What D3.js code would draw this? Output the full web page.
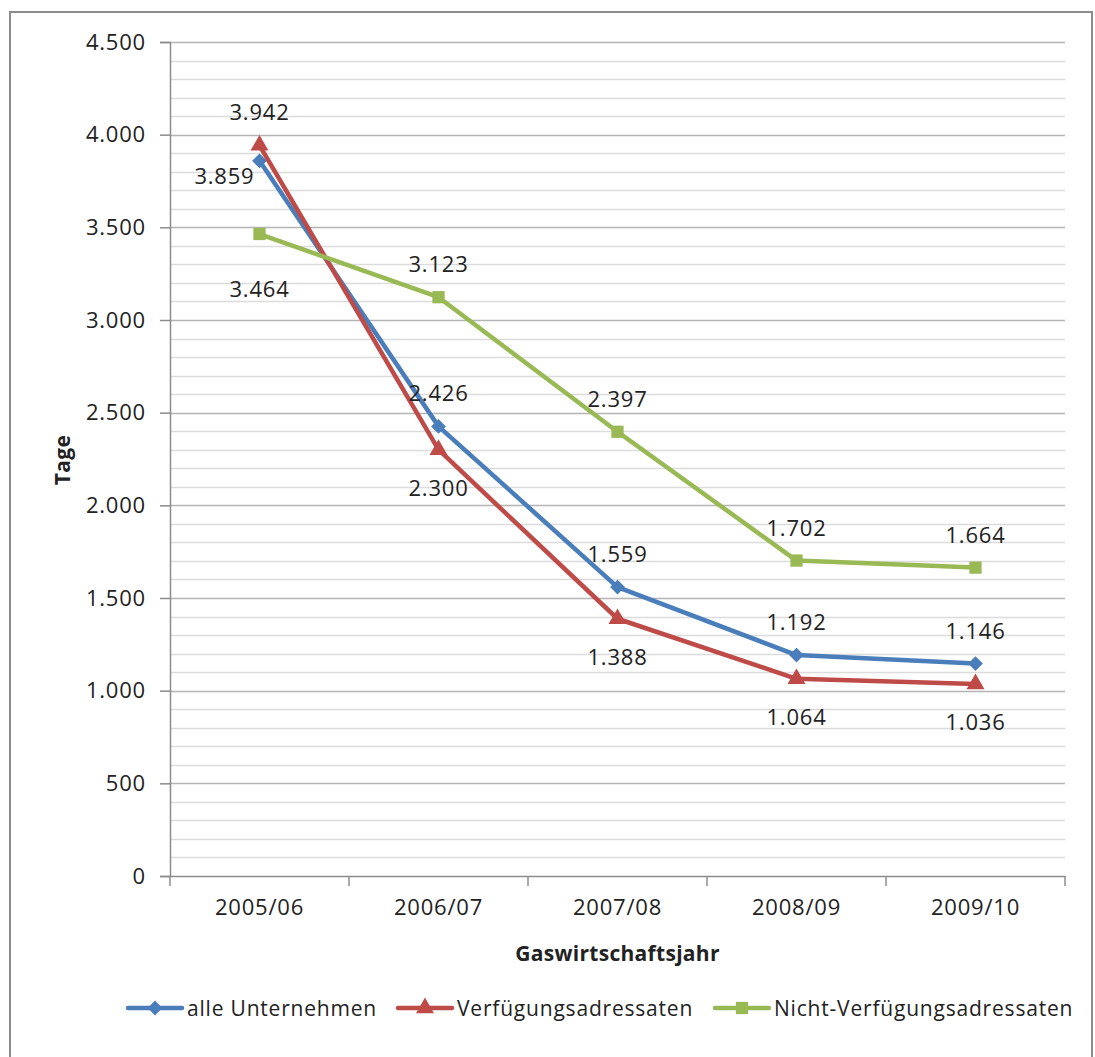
<!DOCTYPE html>
<html>
<head>
<meta charset="utf-8">
<script src="https://cdn.jsdelivr.net/npm/d3@7"></script>
<style>
  body { margin: 0; background: #fff; }
  text { font-family: 'Open Sans', sans-serif; fill: #222; letter-spacing: 0.8px; }
</style>
</head>
<body>
<svg width="1095" height="1057"></svg>
<script>
const width = 1095,
  height = 1057;
const svg = d3.select('svg');

// Data
const years = ['2005/06', '2006/07', '2007/08', '2008/09', '2009/10'];
const alleUnternehmen = [3859, 2426, 1559, 1192, 1146];
const verfuegungsadressaten = [3942, 2300, 1388, 1064, 1036];
const nichtVerfuegungsadressaten = [3464, 3123, 2397, 1702, 1664];
const yTicks = [0, 500, 1000, 1500, 2000, 2500, 3000, 3500, 4000, 4500];

// label placement per point (where Excel put them)
const labelPos = {
  alle: ['left', 'above', 'above', 'above', 'above'],
  verf: ['above', 'below', 'below', 'below', 'below'],
  nicht: ['below2', 'above', 'above', 'above', 'above'],
};

const series = [
  { key: 'alle', name: 'alle Unternehmen', values: alleUnternehmen, color: '#4a7ebb', marker: d3.symbolSquare, size: 110, rot: 45 },
  { key: 'verf', name: 'Verfügungsadressaten', values: verfuegungsadressaten, color: '#be4b48', marker: d3.symbolTriangle, size: 140, rot: 0 },
  { key: 'nicht', name: 'Nicht-Verfügungsadressaten', values: nichtVerfuegungsadressaten, color: '#98b954', marker: d3.symbolSquare, size: 150, rot: 0 },
];

const margin = { left: 170, right: 1065, top: 42, bottom: 876 };

const x = d3.scaleBand().domain(years).range([margin.left, margin.right]);
const y = d3.scaleLinear().domain([0, 4500]).range([margin.bottom, margin.top]);

// outer frame
svg
  .append('path')
  .attr('d', `M10,${height + 5}V12H1092V${height + 5}`)
  .attr('fill', 'none')
  .attr('stroke', '#8c8c8c')
  .attr('stroke-width', 2);

// minor gridlines every 100
svg
  .append('g')
  .selectAll('line')
  .data(d3.range(100, 4600, 100).filter((v) => v % 500 !== 0))
  .join('line')
  .attr('x1', margin.left)
  .attr('x2', margin.right)
  .attr('y1', (d) => Math.round(y(d)) + 0.5)
  .attr('y2', (d) => Math.round(y(d)) + 0.5)
  .attr('stroke', '#dcdcdc')
  .attr('stroke-width', 1.5);

// major gridlines
svg
  .append('g')
  .selectAll('line')
  .data(yTicks.slice(1))
  .join('line')
  .attr('x1', margin.left)
  .attr('x2', margin.right)
  .attr('y1', (d) => Math.round(y(d)) + 0.5)
  .attr('y2', (d) => Math.round(y(d)) + 0.5)
  .attr('stroke', '#b4b4b4')
  .attr('stroke-width', 1.5);

// y axis
const yAxis = svg
  .append('g')
  .attr('transform', `translate(${margin.left},0)`)
  .call(
    d3
      .axisLeft(y)
      .tickValues(yTicks)
      .tickSize(10)
      .tickPadding(14)
      .tickFormat((d) => d3.format(',')(d).replace(/,/g, '.'))
  );
yAxis.select('.domain').attr('stroke', '#8c8c8c').attr('stroke-width', 1.5);
yAxis.selectAll('.tick line').attr('stroke', '#8c8c8c').attr('stroke-width', 1.5);
yAxis.selectAll('.tick text').style('font-size', '22px').attr('fill', '#222');

// x axis
const xAxis = svg
  .append('g')
  .attr('transform', `translate(0,${margin.bottom})`)
  .call(d3.axisBottom(x).tickSize(0).tickPadding(23));
xAxis.select('.domain').attr('stroke', '#8c8c8c').attr('stroke-width', 1.5);
xAxis.selectAll('.tick text').style('font-size', '22px').attr('fill', '#222');

// category separator ticks
svg
  .append('g')
  .selectAll('line')
  .data(years.map((d) => x(d)).concat([margin.right]))
  .join('line')
  .attr('x1', (d) => d)
  .attr('x2', (d) => d)
  .attr('y1', margin.bottom)
  .attr('y2', margin.bottom + 10)
  .attr('stroke', '#8c8c8c')
  .attr('stroke-width', 1.5);

// axis titles
svg
  .append('text')
  .attr('x', (margin.left + margin.right) / 2)
  .attr('y', 953)
  .attr('text-anchor', 'middle')
  .attr('dominant-baseline', 'central')
  .style('font-size', '21px')
  .style('font-weight', 'bold')
  .style('letter-spacing', '0.3px')
  .text('Gaswirtschaftsjahr');

svg
  .append('text')
  .attr('transform', 'translate(62,460) rotate(-90)')
  .attr('text-anchor', 'middle')
  .attr('dominant-baseline', 'central')
  .style('font-size', '21px')
  .style('font-weight', 'bold')
  .style('letter-spacing', '0.3px')
  .text('Tage');

const cx = (i) => x(years[i]) + x.bandwidth() / 2;
const line = d3
  .line()
  .x((d, i) => cx(i))
  .y((d) => y(d));

const fmt = (v) => d3.format(',')(v).replace(/,/g, '.');

// lines and markers
series.forEach((s) => {
  svg
    .append('path')
    .datum(s.values)
    .attr('fill', 'none')
    .attr('stroke', s.color)
    .attr('stroke-width', 4.5)
    .attr('stroke-linejoin', 'round')
    .attr('d', line);

  svg
    .append('g')
    .selectAll('path')
    .data(s.values)
    .join('path')
    .attr('transform', (d, i) => `translate(${cx(i)},${y(d)}) rotate(${s.rot})`)
    .attr('d', d3.symbol().type(s.marker).size(s.size))
    .attr('fill', s.color);
});

// data labels
series.forEach((s) => {
  svg
    .append('g')
    .selectAll('text')
    .data(s.values)
    .join('text')
    .attr('x', (d, i) => (labelPos[s.key][i] === 'left' ? cx(i) - 5 : cx(i)))
    .attr('y', (d, i) => {
      const p = labelPos[s.key][i];
      if (p === 'above') return y(d) - 34;
      if (p === 'below') return y(d) + 37;
      if (p === 'below2') return y(d) + 54;
      return y(d) + 14;
    })
    .attr('text-anchor', (d, i) => (labelPos[s.key][i] === 'left' ? 'end' : 'middle'))
    .attr('dominant-baseline', 'central')
    .style('font-size', '22px')
    .text((d) => fmt(d));
});

// legend
const legendX = [128, 398, 715];
const legend = svg
  .append('g')
  .selectAll('g')
  .data(series)
  .join('g')
  .attr('transform', (d, i) => `translate(${legendX[i]},1008)`);

legend
  .append('line')
  .attr('x1', 0)
  .attr('x2', 54)
  .attr('stroke', (d) => d.color)
  .attr('stroke-width', 4.5)
  .attr('stroke-linecap', 'round');

legend
  .append('path')
  .attr('transform', (d) => `translate(27,0) rotate(${d.rot})`)
  .attr('d', (d) => d3.symbol().type(d.marker).size(d.size)())
  .attr('fill', (d) => d.color);

legend
  .append('text')
  .attr('x', 59)
  .attr('dominant-baseline', 'central')
  .style('font-size', '21px')
  .text((d) => d.name);
</script>
</body>
</html>
